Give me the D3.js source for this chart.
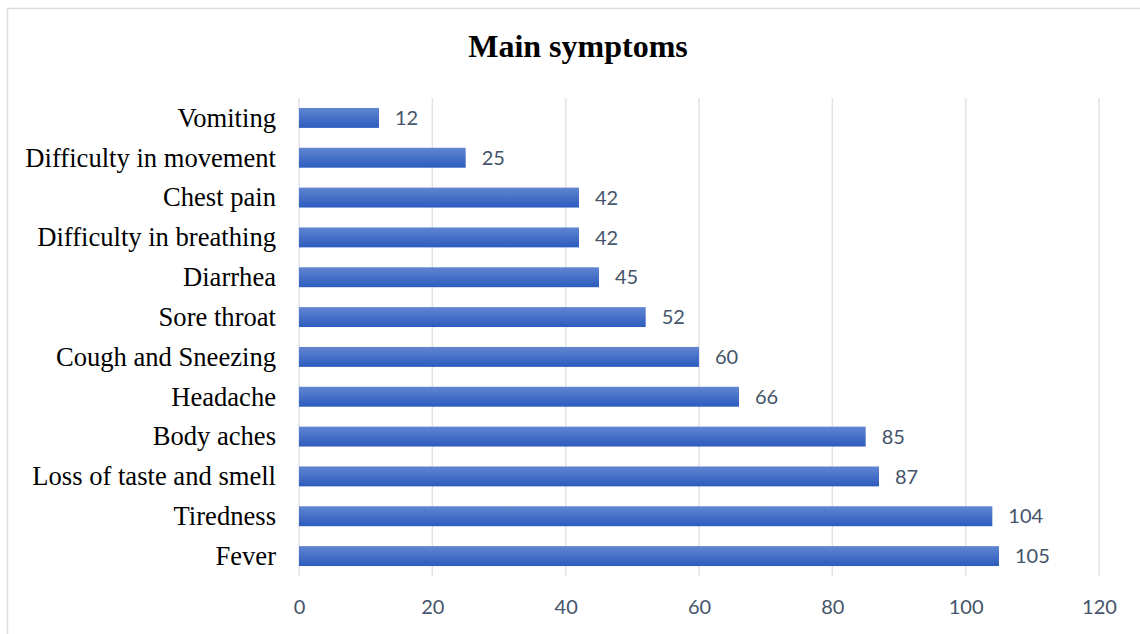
<!DOCTYPE html>
<html>
<head>
<meta charset="utf-8">
<script src="https://cdn.jsdelivr.net/npm/d3@7"></script>
<style>
  html, body { margin: 0; padding: 0; background: #fff; }
  svg { display: block; }
</style>
</head>
<body>
<svg id="chart" width="1140" height="634"></svg>
<script>
const categories = ["Vomiting", "Difficulty in movement", "Chest pain", "Difficulty in breathing", "Diarrhea", "Sore throat", "Cough and Sneezing", "Headache", "Body aches", "Loss of taste and smell", "Tiredness", "Fever"];
const values = [12, 25, 42, 42, 45, 52, 60, 66, 85, 87, 104, 105];
const tickValues = [0, 20, 40, 60, 80, 100, 120];
const title = "Main symptoms";

const svg = d3.select("#chart");
const W = 1140, H = 634;

// frame
svg.append("rect").attr("x", 7.5).attr("y", 8.5).attr("width", W + 10).attr("height", H + 10)
  .attr("fill", "#fff").attr("stroke", "#dadde3").attr("stroke-width", 1.5);

const defs = svg.append("defs");
const grad = defs.append("linearGradient").attr("id", "barGrad").attr("x1", 0).attr("y1", 0).attr("x2", 0).attr("y2", 1);
grad.append("stop").attr("offset", "0%").attr("stop-color", "#6185d1");
grad.append("stop").attr("offset", "100%").attr("stop-color", "#2c5cbe");

const x = d3.scaleLinear().domain([0, 120]).range([299, 1099]);
const y = d3.scaleBand().domain(categories).range([98, 576]).paddingInner(0.5).paddingOuter(0.25);

// gridlines
svg.append("g").selectAll("line").data(tickValues).join("line")
  .attr("x1", d => x(d)).attr("x2", d => x(d))
  .attr("y1", 98).attr("y2", 576)
  .attr("stroke", "#dfe2e8").attr("stroke-width", 1.5);

// x axis labels
const xAxis = d3.axisBottom(x).tickValues(tickValues).tickSize(0).tickPadding(0);
const gx = svg.append("g").attr("transform", "translate(0,600)").call(xAxis);
gx.select(".domain").remove();
gx.selectAll("text").attr("font-family", "Lato, 'Open Sans', sans-serif").attr("font-size", 20)
  .attr("fill", "#44546a").attr("dy", "0.71em");

// y axis labels
const yAxis = d3.axisLeft(y).tickSize(0).tickPadding(23);
const gy = svg.append("g").attr("transform", "translate(299,0)").call(yAxis);
gy.select(".domain").remove();
gy.selectAll("text").attr("font-family", "'Liberation Serif', 'Times New Roman', serif").attr("font-size", 26.6)
  .attr("fill", "#000").attr("dy", "0.33em");

// bars
const data = categories.map((c, i) => ({ c, v: values[i] }));
svg.append("g").selectAll("rect").data(data).join("rect")
  .attr("x", x(0)).attr("y", d => y(d.c))
  .attr("width", d => x(d.v) - x(0)).attr("height", y.bandwidth())
  .attr("fill", "url(#barGrad)");

// value labels
svg.append("g").selectAll("text").data(data).join("text")
  .attr("x", d => x(d.v) + 16).attr("y", d => y(d.c) + y.bandwidth() / 2)
  .attr("dy", "0.36em")
  .attr("font-family", "Lato, 'Open Sans', sans-serif").attr("font-size", 20)
  .attr("fill", "#44546a").text(d => d.v);

// title
svg.append("text").attr("x", 578).attr("y", 57).attr("text-anchor", "middle")
  .attr("font-family", "'Liberation Serif', 'Times New Roman', serif").attr("font-weight", "bold")
  .attr("font-size", 32).attr("fill", "#000").text(title);
</script>
</body>
</html>
